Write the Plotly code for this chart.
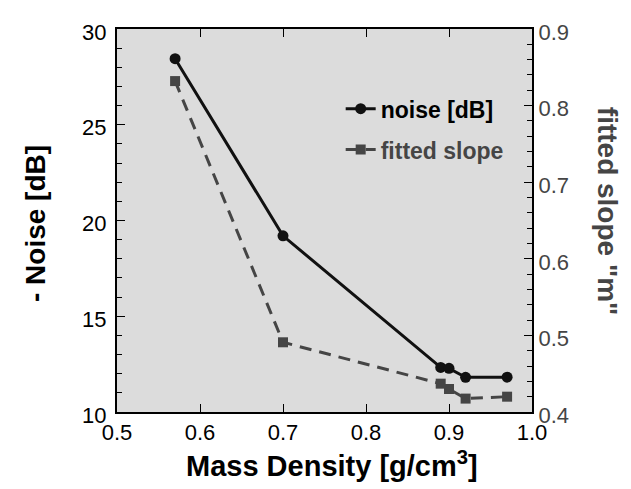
import plotly.graph_objects as go

density = [0.57, 0.70, 0.89, 0.90, 0.92, 0.97]
noise_db = [28.45, 19.2, 12.33, 12.28, 11.81, 11.82]
fitted_slope = [0.832, 0.491, 0.437, 0.430, 0.4175, 0.420]

FONT = "Liberation Sans, Arial, sans-serif"
C_NOISE = "#111111"
C_SLOPE = "#454545"

fig = go.Figure()
fig.add_trace(go.Scatter(
    x=density, y=noise_db, name="<b>noise [dB]</b>", legendgroup="a",
    mode="lines+markers",
    line=dict(color=C_NOISE, width=3),
    marker=dict(symbol="circle", size=11, color=C_NOISE),
))
fig.add_trace(go.Scatter(
    x=density, y=fitted_slope, name="<b><span style='color:#454545'>fitted slope</span></b>",
    legendgroup="b", yaxis="y2",
    mode="lines+markers",
    line=dict(color=C_SLOPE, width=3, dash="12px,8px"),
    marker=dict(symbol="square", size=10, color=C_SLOPE),
))

fig.update_layout(
    width=623, height=481,
    margin=dict(l=109, r=99, t=17, b=77),
    paper_bgcolor="white",
    plot_bgcolor="#dcdcdc",
    font=dict(family=FONT, size=22, color="black"),
    showlegend=True,
    legend=dict(
        x=0.539, y=0.848, xanchor="left", yanchor="top",
        bgcolor="rgba(0,0,0,0)", font=dict(size=23, family=FONT),
        tracegroupgap=8,
    ),
    xaxis=dict(
        range=[0.5, 1.0], dtick=0.1, tick0=0.5, tickformat=".1f",
        ticks="inside", ticklen=8, tickwidth=1, tickcolor="black",
        showline=True, linewidth=2, linecolor="black", mirror="ticks",
        showgrid=False, zeroline=False,
    ),
    yaxis=dict(
        range=[10, 30], dtick=5, tick0=10,
        ticks="inside", ticklen=8, tickwidth=1, tickcolor="black",
        minor=dict(dtick=1, ticks="inside", ticklen=5, tickcolor="black"),
        showline=True, linewidth=2, linecolor="black", mirror=False,
        showgrid=False, zeroline=False,
        ticklabelstandoff=4, ticklabelshift=3,
    ),
    yaxis2=dict(
        range=[0.4, 0.9], dtick=0.1, tick0=0.4, tickformat=".1f",
        overlaying="y", side="right",
        ticks="inside", ticklen=8, tickwidth=1, tickcolor="black",
        minor=dict(dtick=0.02, ticks="inside", ticklen=5, tickcolor="black"),
        showline=True, linewidth=2, linecolor="black",
        showgrid=False, zeroline=False,
        tickfont=dict(color="#454545"),
        ticklabelshift=3,
    ),
    annotations=[
        dict(
            text="<b>fitted slope \"m\"</b>", textangle=90,
            xref="paper", yref="paper", x=1.181, y=0.525,
            xanchor="center", yanchor="middle", showarrow=False,
            font=dict(size=28, color="#454545", family=FONT),
        ),
        dict(
            text="<b>- Noise [dB]</b>", textangle=-90,
            xref="paper", yref="paper", x=-0.195, y=0.491,
            xanchor="center", yanchor="middle", showarrow=False,
            font=dict(size=28, color="black", family=FONT),
        ),
        dict(
            text="<b>Mass Density [g/cm<sup>3</sup>]</b>",
            xref="paper", yref="paper", x=0.518, y=-0.137,
            xanchor="center", yanchor="middle", showarrow=False,
            font=dict(size=29, color="black", family=FONT),
        ),
    ],
)

fig.write_html("out.html")
